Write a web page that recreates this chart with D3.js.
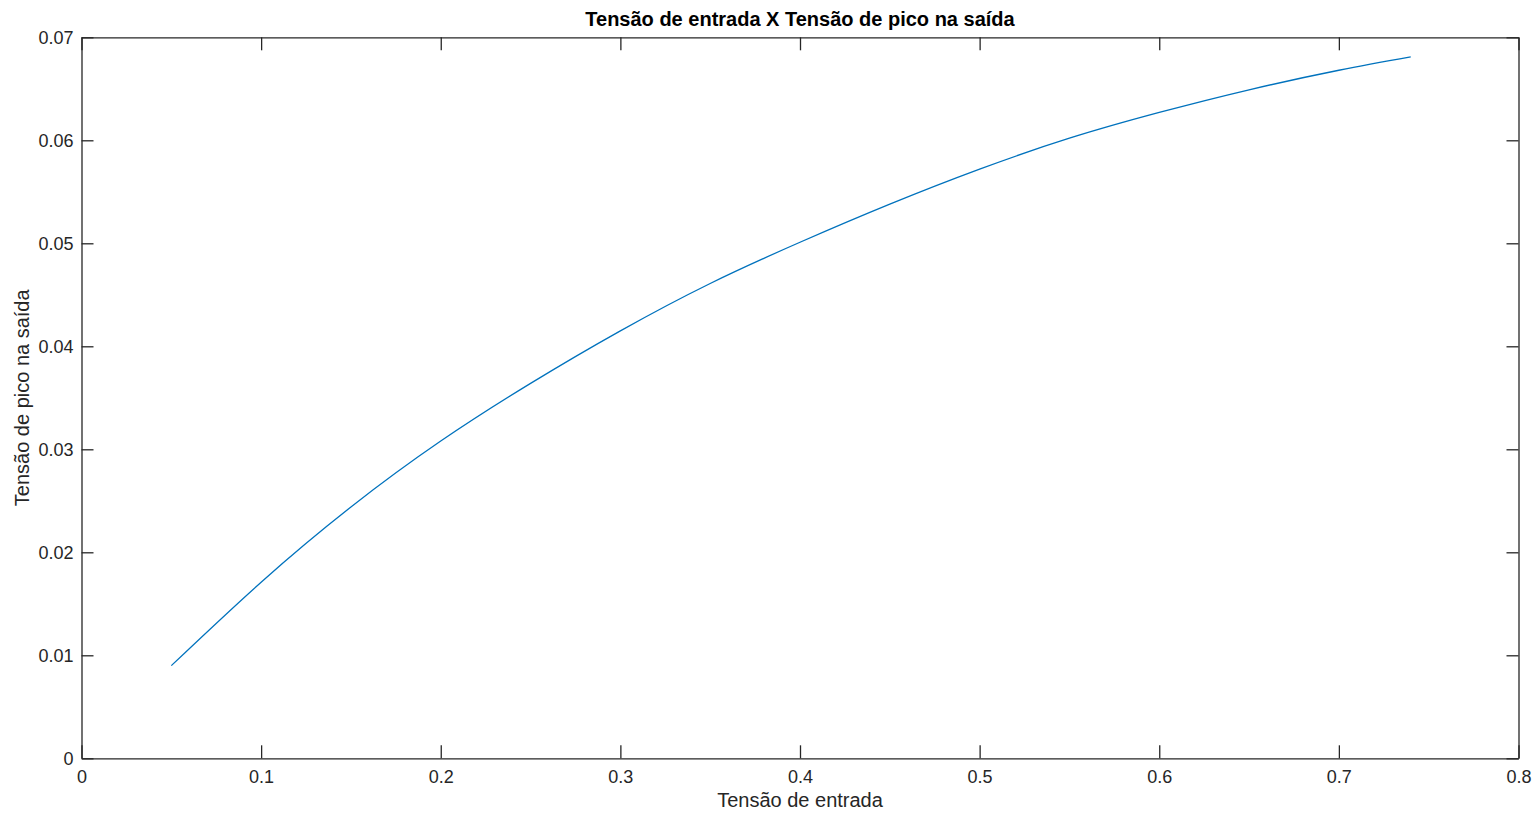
<!DOCTYPE html>
<html>
<head>
<meta charset="utf-8">
<script src="https://cdn.jsdelivr.net/npm/d3@7"></script>
<style>
  body { margin: 0; background: #fff; }
  svg text { font-family: "Liberation Sans", Arial, sans-serif; fill: #262626; }
</style>
</head>
<body>
<div id="chart"></div>
<script>
// data
var tensaoEntrada = [0.05, 0.10, 0.15, 0.20, 0.25, 0.30, 0.35, 0.40, 0.45, 0.50, 0.55, 0.60, 0.65, 0.70, 0.74];
var tensaoPico    = [0.0090, 0.0171, 0.0244, 0.0308, 0.0364, 0.0415, 0.0461, 0.0501, 0.0538, 0.0572, 0.0602, 0.0627, 0.0649, 0.0668, 0.0681];
var xTicks = [0, 0.1, 0.2, 0.3, 0.4, 0.5, 0.6, 0.7, 0.8];
var yTicks = [0, 0.01, 0.02, 0.03, 0.04, 0.05, 0.06, 0.07];

var W = 1536, H = 817;
var margin = { left: 81.5, right: 17.5, top: 37.3, bottom: 58.7 };
var width = W - margin.left - margin.right,
    height = H - margin.top - margin.bottom;

var svg = d3.select("#chart").append("svg")
    .attr("width", W)
    .attr("height", H);

var g = svg.append("g")
    .attr("transform", "translate(" + margin.left + "," + margin.top + ")");

var x = d3.scaleLinear().domain([0, 0.8]).range([0, width]);
var y = d3.scaleLinear().domain([0, 0.07]).range([height, 0]);

var fmt = function(d) { return String(+d.toFixed(2)); };

// bottom axis
g.append("g")
    .attr("transform", "translate(0," + height + ")")
    .call(d3.axisBottom(x).tickValues(xTicks).tickFormat(fmt)
        .tickSizeInner(-13).tickSizeOuter(0).tickPadding(12));
// top axis, ticks only
g.append("g")
    .call(d3.axisTop(x).tickValues(xTicks).tickFormat("")
        .tickSizeInner(-13).tickSizeOuter(0));
// left axis
g.append("g")
    .call(d3.axisLeft(y).tickValues(yTicks).tickFormat(fmt)
        .tickSizeInner(-12).tickSizeOuter(0).tickPadding(8));
// right axis, ticks only
g.append("g")
    .attr("transform", "translate(" + width + ",0)")
    .call(d3.axisRight(y).tickValues(yTicks).tickFormat("")
        .tickSizeInner(-12).tickSizeOuter(0));

g.selectAll(".domain, .tick line")
    .attr("stroke", "#262626")
    .attr("stroke-width", 1.3);
g.selectAll(".tick text")
    .attr("font-size", "18px")
    .attr("fill", "#262626");

// curve
var line = d3.line()
    .x(function(d, i) { return x(tensaoEntrada[i]); })
    .y(function(d) { return y(d); })
    .curve(d3.curveNatural);

g.append("path")
    .datum(tensaoPico)
    .attr("fill", "none")
    .attr("stroke", "#0072BD")
    .attr("stroke-width", 1.3)
    .attr("d", line);

// title
svg.append("text")
    .attr("x", margin.left + width / 2)
    .attr("y", 26)
    .attr("text-anchor", "middle")
    .attr("font-size", "20px")
    .attr("font-weight", "bold")
    .style("fill", "#000")
    .text("Tensão de entrada X Tensão de pico na saída");

// X label
svg.append("text")
    .attr("x", margin.left + width / 2)
    .attr("y", 807)
    .attr("text-anchor", "middle")
    .attr("font-size", "20px")
    .text("Tensão de entrada");

// Y label
svg.append("text")
    .attr("transform", "translate(29," + (margin.top + height / 2) + ") rotate(-90)")
    .attr("text-anchor", "middle")
    .attr("font-size", "20px")
    .text("Tensão de pico na saída");
</script>
</body>
</html>
